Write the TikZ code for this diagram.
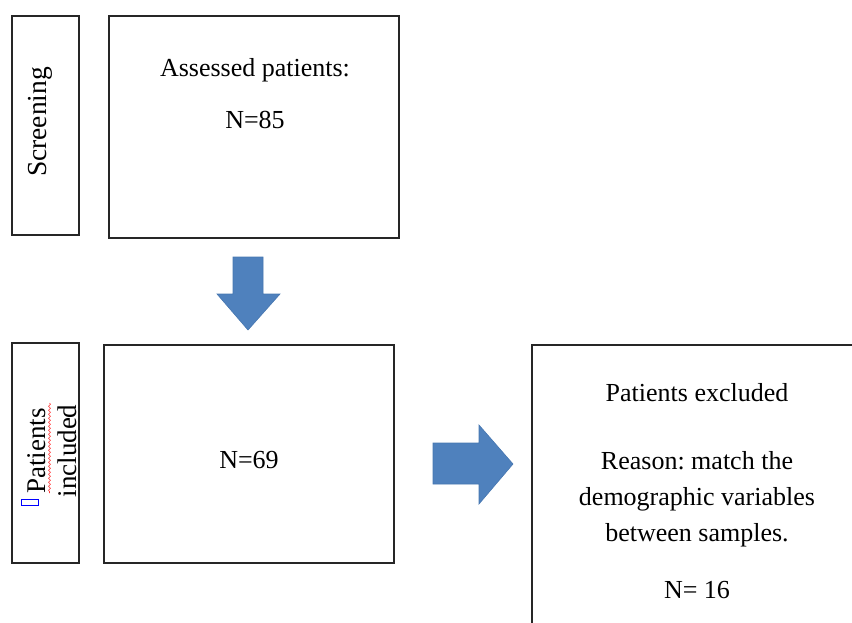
\documentclass[tikz,border=0pt]{standalone}
\usepackage{fontspec}
\setmainfont{Liberation Serif}
\usepackage{xcolor}
\usetikzlibrary{decorations.pathmorphing}
\frenchspacing

\definecolor{arrowblue}{RGB}{79,129,189}
\definecolor{arrowedge}{RGB}{70,118,176}

\begin{document}
\begin{tikzpicture}[x=1pt,y=-1pt,line width=1.5pt,
    box/.style={draw=black!85,rectangle,inner sep=0pt},
    txt/.style={align=center,font=\fontsize{26}{36}\selectfont},
    blockarrow/.style={fill=arrowblue,draw=arrowedge,line width=0.6pt}]
      \clip (0,0) rectangle (852,623);

      % stage labels
      \node [box,minimum width=67,minimum height=219] (screen) at (45.5,125.5) {};
      \node [txt,rotate=90,font=\fontsize{27.5}{36}\selectfont] (screentxt) at (40,122) {Screening};
      \node [box,minimum width=67,minimum height=220] (incl) at (45.5,453) {};
      \node [txt,rotate=90,font=\fontsize{27}{31}\selectfont] (incltxt) at (52,451) {Patients\\included};
      \draw [red!80,line width=0.6pt,decorate,decoration={snake,amplitude=1pt,segment length=4pt}]
        (49.5,403) -- (49.5,493);
      \draw [blue,line width=1pt] (21,499) rectangle (38,505);

      % counts
      \node [box,minimum width=290,minimum height=222] (assessed) at (254,127) {};
      \node [txt] (assessedtxt) at (255,70) {Assessed patients:};
      \node [txt] (assessedn) at (255,120) {N=85};
      \node [box,minimum width=290,minimum height=218] (count) at (249,454) {};
      \node [txt] (countn) at (249,460) {N=69};

      \node [box,txt,minimum width=330,minimum height=292] (excl) at (697,491) {%
        Patients excluded\\[32pt]
        Reason: match the\\
        demographic variables\\
        between samples.\\[21pt]
        N= 16
      };

      % block arrows
      \draw [blockarrow] (233,257) -- (263,257) -- (263,294) -- (280,294)
        -- (248,330) -- (217,294) -- (233,294) -- cycle;
      \draw [blockarrow] (433,443) -- (479,443) -- (479,425) -- (513,464)
        -- (479,504) -- (479,484) -- (433,484) -- cycle;
    \end{tikzpicture}
\end{document}
